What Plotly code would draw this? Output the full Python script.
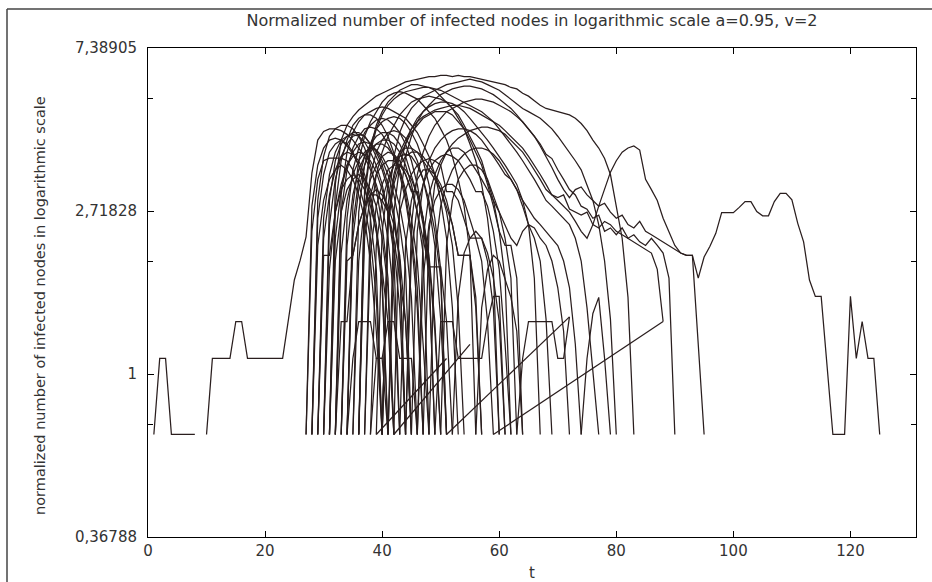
import math
import plotly.graph_objects as go

# ---------------- data (normalized number of infected nodes, one list per run) ----------------
# each run: start time (integer t) and consecutive values at t, t+1, ...
start_c0a = 1
run_c0a = [0.69, 1.10, 1.10, 0.69, 0.69, 0.69, 0.69, 0.69]

start_c0b = 10
run_c0b = [0.69, 1.10, 1.10, 1.10, 1.10, 1.38, 1.38, 1.10, 1.10, 1.10,   # 10-19
           1.10, 1.10, 1.10, 1.10, 1.40, 1.78, 2.01, 2.32, 3.43, 4.20,   # 20-29
           4.43, 4.50, 4.50, 4.45, 4.35, 4.20, 4.00, 3.80, 3.50, 3.20,   # 30-39
           2.80, 2.30, 1.60, 0.69]                                        # 40-43

start_top = 31
run_top = [0.69, 3.20, 4.20, 4.60, 4.85, 5.05, 5.20, 5.35, 5.50, 5.60,   # 31-40
           5.70, 5.80, 5.90, 6.00, 6.05, 6.10, 6.15, 6.20, 6.20, 6.25,   # 41-50
           6.25, 6.20, 6.25, 6.20, 6.20, 6.15, 6.10, 6.05, 6.00, 5.95,   # 51-60
           5.90, 5.80, 5.75, 5.60, 5.50, 5.35, 5.20, 5.10, 5.05, 5.00,   # 61-70
           4.95, 4.90, 4.80, 4.65, 4.45, 4.20, 4.00, 3.75, 3.40, 2.80,   # 71-80
           2.30, 1.60, 0.69]                                              # 81-83

start_tail = 40
run_tail = [0.69, 2.60, 3.40, 3.90, 4.20, 4.50, 4.70, 4.85, 4.95, 5.05,  # 40-49
            5.10, 5.15, 5.20, 5.20, 5.15, 5.10, 5.00, 4.90, 4.80, 4.70,  # 50-59
            4.60, 4.45, 4.30, 4.15, 4.00, 3.80, 3.60, 3.40, 3.20, 3.00,  # 60-69
            2.90, 2.80, 2.70, 2.55, 2.40, 2.30, 2.50, 2.80, 3.10, 3.45,  # 70-79
            3.70, 3.90, 4.00, 4.05, 3.95, 3.30, 3.10, 2.90, 2.60, 2.40,  # 80-89
            2.20, 2.10, 2.07, 2.07, 1.80, 2.05, 2.19, 2.37, 2.69, 2.69,  # 90-99
            2.69, 2.78, 2.88, 2.88, 2.71, 2.64, 2.64, 2.88, 3.03, 3.03,  # 100-109
            2.91, 2.52, 2.25, 1.78, 1.61, 1.61, 1.05, 0.69, 0.69, 0.69,  # 110-119
            1.61, 1.10, 1.38, 1.10, 1.10, 0.69]                          # 120-125

start_r01 = 27
run_r01 = [0.69, 2.8, 3.6, 4.0, 4.2, 4.25, 4.2, 4.05, 3.85, 3.6, 3.3, 2.9, 2.4, 1.7, 0.69]
start_r02 = 27
run_r02 = [0.69, 2.4, 3.3, 3.7, 3.76, 3.76, 3.76, 3.7, 3.5, 3.2, 2.8, 2.3, 1.6, 0.69]
start_r03 = 28
run_r03 = [0.69, 2.9, 3.8, 4.3, 4.5, 4.6, 4.6, 4.5, 4.3, 4.0, 3.6, 3.1, 2.5, 1.8, 0.69]
start_r04 = 28
run_r04 = [0.69, 2.2, 2.9, 3.3, 3.5, 3.6, 3.5, 3.3, 3.0, 2.6, 2.0, 1.3, 0.69]
start_r05 = 29
run_r05 = [0.69, 2.6, 3.4, 3.9, 4.2, 4.3, 4.4, 4.4, 4.3, 4.1, 3.8, 3.5, 3.1, 2.6, 2.0, 0.69]
start_r06 = 29
run_r06 = [0.69, 2.07, 2.07, 2.7, 3.1, 3.3, 3.4, 3.3, 3.1, 2.8, 2.4, 1.9, 1.38, 0.69]
start_r07 = 30
run_r07 = [0.69, 2.5, 3.3, 3.8, 4.1, 4.3, 4.35, 4.3, 4.1, 3.9, 3.6, 3.2, 2.7, 2.0, 0.69]
start_r08 = 30
run_r08 = [0.69, 1.9, 2.7, 3.2, 3.6, 3.8, 3.9, 3.85, 3.7, 3.45, 3.1, 2.7, 2.2, 1.5, 0.69]
start_r09 = 31
run_r09 = [0.69, 2.3, 3.1, 3.6, 3.9, 4.1, 4.15, 4.1, 3.95, 3.7, 3.4, 3.0, 2.5, 1.9, 0.69]
start_r10 = 31
run_r10 = [0.69, 2.8, 3.7, 4.2, 4.6, 4.8, 4.9, 4.9, 4.8, 4.6, 4.3, 3.9, 3.5, 3.0, 2.4, 1.7, 0.69]
start_r11 = 32
run_r11 = [0.69, 2.1, 2.9, 3.4, 3.7, 3.9, 4.0, 3.95, 3.8, 3.55, 3.2, 2.8, 2.3, 1.6, 0.69]
start_r12 = 32
run_r12 = [0.69, 1.38, 1.38, 2.07, 2.5, 2.8, 3.0, 3.1, 3.0, 2.8, 2.5, 2.07, 1.38, 0.69]
start_r13 = 33
run_r13 = [0.69, 2.6, 3.5, 4.0, 4.4, 4.6, 4.75, 4.8, 4.75, 4.6, 4.4, 4.1, 3.7, 3.2, 2.6, 1.9, 0.69]
start_r14 = 33
run_r14 = [0.69, 2.2, 3.0, 3.5, 3.8, 4.0, 4.1, 4.1, 4.0, 3.8, 3.5, 3.1, 2.6, 2.0, 1.2, 0.69]
start_r15 = 34
run_r15 = [0.69, 2.5, 3.3, 3.8, 4.1, 4.3, 4.4, 4.4, 4.3, 4.1, 3.8, 3.4, 3.0, 2.5, 1.8, 0.69]
start_r16 = 34
run_r16 = [0.69, 1.10, 1.38, 1.38, 1.38, 1.10, 1.10, 0.69]
start_r17 = 35
run_r17 = [0.69, 2.0, 2.8, 3.3, 3.6, 3.8, 3.9, 3.85, 3.7, 3.4, 3.06, 3.06, 2.6, 2.0, 1.3, 0.69]
start_r18 = 35
run_r18 = [0.69, 2.7, 3.6, 4.1, 4.5, 4.7, 4.8, 4.85, 4.8, 4.65, 4.4, 4.1, 3.7, 3.2, 2.6, 1.9, 0.69]
start_r19 = 36
run_r19 = [0.69, 2.3, 3.0, 3.4, 3.6, 3.7, 3.7, 3.6, 3.4, 3.1, 2.7, 2.3, 1.93, 1.93, 1.93, 1.38, 0.69]
start_r20 = 37
run_r20 = [0.69, 2.1, 2.8, 3.2, 3.5, 3.6, 3.6, 3.5, 3.3, 3.0, 2.6, 2.07, 1.38, 0.69]
start_r21 = 38
run_r21 = [0.69, 1.10, 1.10, 1.38, 1.38, 1.10, 1.10, 1.10, 0.69]
start_r22 = 39
run_r22 = [0.69, 2.4, 3.2, 3.6, 3.9, 4.0, 4.0, 3.9, 3.7, 3.5, 3.3, 3.1, 2.8, 2.5, 2.07, 2.07, 2.07, 1.5, 0.69]
start_r23 = 32
run_r23 = [0.69, 3.0, 3.9, 4.4, 4.7, 4.9, 5.0, 5.1, 5.15, 5.1, 5.0, 4.9, 4.8, 4.6, 4.4, 4.1, 3.8, 3.4,
           2.9, 2.3, 1.5, 0.69]
start_r24 = 34
run_r24 = [0.69, 2.8, 3.7, 4.3, 4.7, 5.0, 5.3, 5.5, 5.6, 5.65, 5.6, 5.5, 5.4, 5.2, 5.0, 4.8, 4.5, 4.2,
           3.8, 3.3, 2.8, 2.1, 0.69]
start_r25 = 36
run_r25 = [0.69, 3.1, 4.0, 4.6, 5.0, 5.3, 5.5, 5.7, 5.8, 5.9, 5.9, 5.85, 5.8, 5.7, 5.5, 5.3, 5.1, 4.8,
           4.5, 4.1, 3.7, 3.2, 2.6, 1.9, 0.69]
start_r27 = 37
run_r27 = [0.69, 2.6, 3.4, 3.9, 4.3, 4.6, 4.9, 5.1, 5.3, 5.4, 5.45, 5.5, 5.45, 5.4, 5.3, 5.1, 4.9, 4.6,
           4.3, 4.0, 3.7, 3.3, 2.9, 2.4, 1.8, 0.69]
start_r28 = 40
run_r28 = [0.69, 2.5, 3.3, 3.8, 4.1, 4.4, 4.6, 4.8, 4.9, 5.0, 5.0, 5.0, 4.9, 4.7, 4.5, 4.2, 3.9, 3.6,
           3.2, 2.8, 2.4, 2.2, 2.2, 1.8, 0.69]
start_r29 = 41
run_r29 = [0.69, 2.0, 2.7, 3.1, 3.4, 3.6, 3.7, 3.75, 3.7, 3.6, 3.06, 3.06, 2.9, 2.6, 2.3, 2.3, 2.0, 1.38, 0.69]
start_r30 = 43
run_r30 = [0.69, 2.2, 2.9, 3.3, 3.5, 3.5, 3.4, 3.2, 2.9, 2.5, 2.07, 2.07, 2.07, 1.6, 0.69]
start_r31 = 42
run_r31 = [0.69, 2.9, 3.8, 4.3, 4.7, 5.0, 5.2, 5.4, 5.55, 5.65,      # 42-51
           5.75, 5.8, 5.85, 5.85, 5.8, 5.75, 5.65, 5.55, 5.4, 5.25,     # 52-61
           5.1, 4.9, 4.7, 4.5, 4.3, 4.1, 3.85, 3.75, 3.5, 3.3,          # 62-71
           3.1, 3.0, 2.8, 2.75, 2.6, 2.65, 2.4, 2.45, 2.35, 2.45,       # 72-81
           2.3, 2.35, 2.25, 2.2, 2.3, 2.2, 2.1, 1.8, 0.69]              # 82-90
start_r32 = 44
run_r32 = [0.69, 2.5, 3.4, 3.9, 4.3, 4.6, 4.8, 5.0, 5.1, 5.2,        # 44-53
           5.3, 5.35, 5.4, 5.4, 5.35, 5.3, 5.2, 5.1, 5.0, 4.85,      # 54-63
           4.7, 4.5, 4.3, 4.05, 3.8, 3.55, 3.3, 3.1, 2.95, 3.1,      # 64-73
           3.15, 3.0, 2.9, 2.8, 2.85, 2.7, 2.6, 2.65, 2.5, 2.45,     # 74-83
           2.55, 2.4, 2.35, 2.3, 2.25, 2.2, 2.15, 2.1, 2.07, 2.07,   # 84-93
           1.2, 0.69]                                                 # 94-95
start_r34 = 41
run_r34 = [0.69, 2.7, 3.6, 4.1, 4.5, 4.8, 5.0, 5.15, 5.25, 5.3, 5.3, 5.25, 5.15, 5.0, 4.8, 4.6, 4.4,
           4.2, 4.0, 3.8, 3.6, 3.4, 3.2, 2.9, 2.5, 1.8, 0.69]
start_r35 = 45
run_r35 = [0.69, 2.4, 3.2, 3.7, 4.0, 4.2, 4.35, 4.45, 4.5, 4.5, 4.45, 4.35, 4.2, 4.0, 3.8, 3.6, 3.4,
           3.3, 3.1, 2.8, 2.5, 2.3, 2.0, 1.4, 0.69]
start_r36 = 46
run_r36 = [0.69, 2.3, 3.0, 3.4, 3.7, 3.9, 4.0, 4.0, 3.9, 3.7, 3.5, 3.3, 3.1, 2.9, 2.7, 2.5, 2.3,
           2.2, 2.4, 2.5, 2.45, 2.3, 2.2, 2.0, 1.7, 1.3, 0.69]
start_r37 = 48
run_r37 = [0.69, 2.1, 2.8, 3.2, 3.5, 3.7, 3.85, 3.95, 4.0, 4.0, 3.95, 3.85, 3.7, 3.5, 3.3, 3.1, 2.9,
           2.75, 2.6, 2.5, 2.4, 2.3, 2.2, 2.0, 1.7, 1.2, 0.69]
start_r38 = 36
run_r38 = [0.69, 3.0, 3.9, 4.5, 4.9, 5.2, 5.4, 5.55, 5.65, 5.7, 5.75, 5.8, 5.8, 5.75, 5.7, 5.6, 5.5,
           5.4, 5.3, 5.2, 5.1, 5.0, 4.85, 4.7, 4.5, 4.3, 4.1, 3.9, 3.7, 3.5, 3.3, 3.1, 2.9, 2.8,
           2.7, 2.6, 2.5, 2.3, 2.0, 1.5, 1.0, 0.69]
start_r39 = 40
run_r39 = [0.69, 2.8, 3.8, 4.4, 4.8, 5.1, 5.3, 5.5, 5.6, 5.7, 5.8, 5.9, 5.95, 6.0, 6.05, 6.1, 6.05,
           6.0, 5.9, 5.8, 5.7, 5.55, 5.4, 5.25, 5.1, 5.0, 4.9, 4.8, 4.65, 4.5, 4.3, 4.1, 3.9, 3.7,
           3.5, 3.2, 2.9, 2.5, 2.0, 1.4, 0.69]
start_r41 = 47
run_r41 = [0.69, 2.4, 3.2, 3.6, 3.9, 4.1, 4.25, 4.35, 4.45, 4.5, 4.55, 4.55, 4.5, 4.45, 4.35, 4.2,
           4.05, 3.9, 3.7, 3.5, 3.3, 3.1, 3.0, 2.95, 3.0, 2.75, 2.7, 2.65, 2.7, 2.5, 2.45, 2.55,
           2.5, 2.4, 2.35, 2.3, 2.25, 2.2, 2.15, 2.1, 1.9, 1.38]
start_r42 = 44
run_r42 = [0.69, 2.1, 2.8, 3.2, 3.5, 3.7, 3.8, 3.85, 3.8, 3.7, 3.5, 3.3, 3.06, 3.06, 2.8, 2.4, 1.9, 1.2, 0.69]
start_r43 = 46
run_r43 = [0.69, 1.8, 2.5, 2.9, 3.1, 3.2, 3.2, 3.1, 2.9, 2.6, 2.3, 2.3, 2.0, 1.5, 0.69]
start_r44 = 50
run_r44 = [0.69, 2.2, 2.9, 3.3, 3.5, 3.6, 3.6, 3.5, 3.3, 3.0, 2.7, 2.3, 1.8, 0.69]
start_r45 = 52
run_r45 = [0.69, 1.6, 2.1, 2.3, 2.4, 2.3, 2.1, 1.8, 1.38, 0.69]
start_r46 = 56
run_r46 = [0.69, 1.5, 1.9, 2.07, 2.0, 1.8, 1.6, 1.3, 0.69]
start_r47 = 33
run_r47 = [0.69, 2.0, 2.07, 2.5, 2.8, 3.0, 3.0, 2.9, 2.7, 2.3, 1.8, 1.38, 0.69]
start_r48 = 28
run_r48 = [0.69, 2.6, 3.4, 3.9, 4.1, 4.2, 4.1, 3.9, 3.6, 3.2, 2.6, 1.9, 0.69]
start_r49 = 30
run_r49 = [0.69, 2.9, 3.7, 4.1, 4.3, 4.35, 4.3, 4.15, 3.9, 3.6, 3.2, 2.7, 2.1, 0.69]
start_r50 = 31
run_r50 = [0.69, 2.0, 2.7, 3.1, 3.3, 3.4, 3.3, 3.1, 2.8, 2.3, 1.7, 0.69]
start_r51 = 32
run_r51 = [0.69, 2.7, 3.5, 4.0, 4.3, 4.5, 4.55, 4.5, 4.35, 4.1, 3.8, 3.4, 2.9, 2.3, 1.5, 0.69]
start_r52 = 34
run_r52 = [0.69, 2.3, 3.1, 3.6, 3.9, 4.1, 4.2, 4.2, 4.1, 3.9, 3.6, 3.2, 2.7, 2.1, 0.69]
start_r53 = 36
run_r53 = [0.69, 2.6, 3.4, 3.9, 4.2, 4.4, 4.45, 4.4, 4.25, 4.0, 3.7, 3.3, 2.8, 2.2, 1.4, 0.69]
start_r54 = 38
run_r54 = [0.69, 2.2, 2.9, 3.3, 3.6, 3.8, 3.85, 3.8, 3.6, 3.3, 2.9, 2.4, 1.8, 0.69]
start_r55 = 40
run_r55 = [0.69, 2.5, 3.2, 3.6, 3.8, 3.9, 3.9, 3.8, 3.6, 3.4, 3.1, 2.7, 2.2, 1.5, 0.69]
start_r56 = 29
run_r56 = [0.69, 2.3, 3.0, 3.5, 3.8, 3.9, 3.85, 3.7, 3.4, 3.0, 2.5, 1.8, 0.69]

# small-count runs (step-like)
start_s1 = 49
run_s1 = [0.69, 1.38, 1.38, 1.38, 1.10, 1.10, 1.10, 1.10, 1.10, 1.38, 1.61, 1.61, 0.69]
start_s2 = 63
run_s2 = [0.69, 1.10, 1.38, 1.38, 1.38, 1.38, 1.38, 1.10, 1.10, 1.42]
start_s3 = 74
run_s3 = [0.69, 1.10, 1.45, 1.60, 1.10, 0.69]

# straight joins between consecutive runs (end of one run -> start of next)
join1_t = [72, 51]
join1_v = [1.42, 0.69]
join2_t = [88, 59]
join2_v = [1.38, 0.69]
join3_t = [51, 39]
join3_v = [1.10, 0.69]
join4_t = [55, 42]
join4_v = [1.20, 0.69]

runs = [
    (start_c0a, run_c0a), (start_c0b, run_c0b), (start_top, run_top), (start_tail, run_tail),
    (start_r01, run_r01), (start_r02, run_r02), (start_r03, run_r03), (start_r04, run_r04),
    (start_r05, run_r05), (start_r06, run_r06), (start_r07, run_r07), (start_r08, run_r08),
    (start_r09, run_r09), (start_r10, run_r10), (start_r11, run_r11), (start_r12, run_r12),
    (start_r13, run_r13), (start_r14, run_r14), (start_r15, run_r15), (start_r16, run_r16),
    (start_r17, run_r17), (start_r18, run_r18), (start_r19, run_r19), (start_r20, run_r20),
    (start_r21, run_r21), (start_r22, run_r22), (start_r23, run_r23), (start_r24, run_r24),
    (start_r25, run_r25), (start_r27, run_r27), (start_r28, run_r28), (start_r29, run_r29),
    (start_r30, run_r30), (start_r31, run_r31), (start_r32, run_r32), (start_r34, run_r34),
    (start_r35, run_r35), (start_r36, run_r36), (start_r37, run_r37), (start_r38, run_r38),
    (start_r39, run_r39), (start_r41, run_r41), (start_r42, run_r42), (start_r43, run_r43),
    (start_r44, run_r44), (start_r45, run_r45), (start_r46, run_r46), (start_r47, run_r47),
    (start_r48, run_r48), (start_r49, run_r49), (start_r50, run_r50), (start_r51, run_r51),
    (start_r52, run_r52), (start_r53, run_r53), (start_r54, run_r54), (start_r55, run_r55),
    (start_r56, run_r56), (start_s1, run_s1), (start_s2, run_s2), (start_s3, run_s3),
]
joins = [(join1_t, join1_v), (join2_t, join2_v), (join3_t, join3_v), (join4_t, join4_v)]

y_tickvals = [0.36788, 1, 2.71828, 7.38905]
y_ticktext = ["0,36788", "1", "2,71828", "7,38905"]
y_minor = [0.73576, 2.0, 5.43656]
x_tickvals = [0, 20, 40, 60, 80, 100, 120]

title_text = "Normalized number of infected nodes in logarithmic scale a=0.95, v=2"
ytitle_text = "normalized number of infected nodes in logarithmic scale"
xtitle_text = "t"

# ---------------- figure ----------------
LINE = dict(color="#2a1e1e", width=1.25)
FONT = "DejaVu Sans, Verdana, sans-serif"
TXT = "#333333"

fig = go.Figure()
for t0, vals in runs:
    fig.add_trace(go.Scatter(x=list(range(t0, t0 + len(vals))), y=vals, mode="lines",
                             line=LINE, showlegend=False, hoverinfo="skip"))
for tt, vv in joins:
    fig.add_trace(go.Scatter(x=tt, y=vv, mode="lines", line=LINE,
                             showlegend=False, hoverinfo="skip"))

W, H = 932, 582
L, R, T, Bm = 148, 16, 48, 45
pw, ph = W - L - R, H - T - Bm

def px_x(px):
    return (px - L) / pw

def px_y(py):
    return (H - Bm - py) / ph

fig.update_layout(
    width=W, height=H,
    margin=dict(l=L, r=R, t=T, b=Bm, pad=0),
    paper_bgcolor="white", plot_bgcolor="white",
    font=dict(family=FONT, size=15, color=TXT),
    title=dict(text=title_text, x=(L + pw / 2) / W, xanchor="center",
               y=1 - 20 / H, yanchor="middle",
               font=dict(family=FONT, size=16, color=TXT)),
    showlegend=False,
)
fig.update_xaxes(
    range=[0, 131.2], tickvals=x_tickvals, ticks="inside", ticklen=6, tickwidth=1,
    tickcolor="black", showline=True, linecolor="black", linewidth=1, mirror="ticks",
    showgrid=False, zeroline=False, tickfont=dict(family=FONT, size=15, color=TXT),
)
fig.update_yaxes(
    type="log", range=[math.log10(0.36788), math.log10(7.38905)],
    tickvals=y_tickvals, ticktext=y_ticktext, ticks="inside", ticklen=6, tickwidth=1,
    tickcolor="black", showline=True, linecolor="black", linewidth=1, mirror="ticks",
    showgrid=False, zeroline=False, tickfont=dict(family=FONT, size=15, color=TXT),
    ticklabelstandoff=7,
    minor=dict(tickvals=y_minor, ticks="inside", ticklen=5, tickcolor="black", showgrid=False),
)

fig.add_annotation(text=ytitle_text, textangle=-90, xref="paper", yref="paper",
                   x=px_x(40), y=px_y(306), xanchor="center", yanchor="middle",
                   showarrow=False, font=dict(family=FONT, size=14.5, color=TXT))
fig.add_annotation(text=xtitle_text, xref="paper", yref="paper",
                   x=px_x(532), y=px_y(573), xanchor="center", yanchor="middle",
                   showarrow=False, font=dict(family=FONT, size=15, color=TXT))

# outer image frame (top and left edges visible)
fig.add_shape(type="line", xref="paper", yref="paper", x0=px_x(7), x1=px_x(W + 5),
              y0=px_y(9), y1=px_y(9), line=dict(color="#444444", width=1.5))
fig.add_shape(type="line", xref="paper", yref="paper", x0=px_x(7), x1=px_x(7),
              y0=px_y(9), y1=px_y(H + 5), line=dict(color="#444444", width=1.5))

fig.write_html("out.html")
